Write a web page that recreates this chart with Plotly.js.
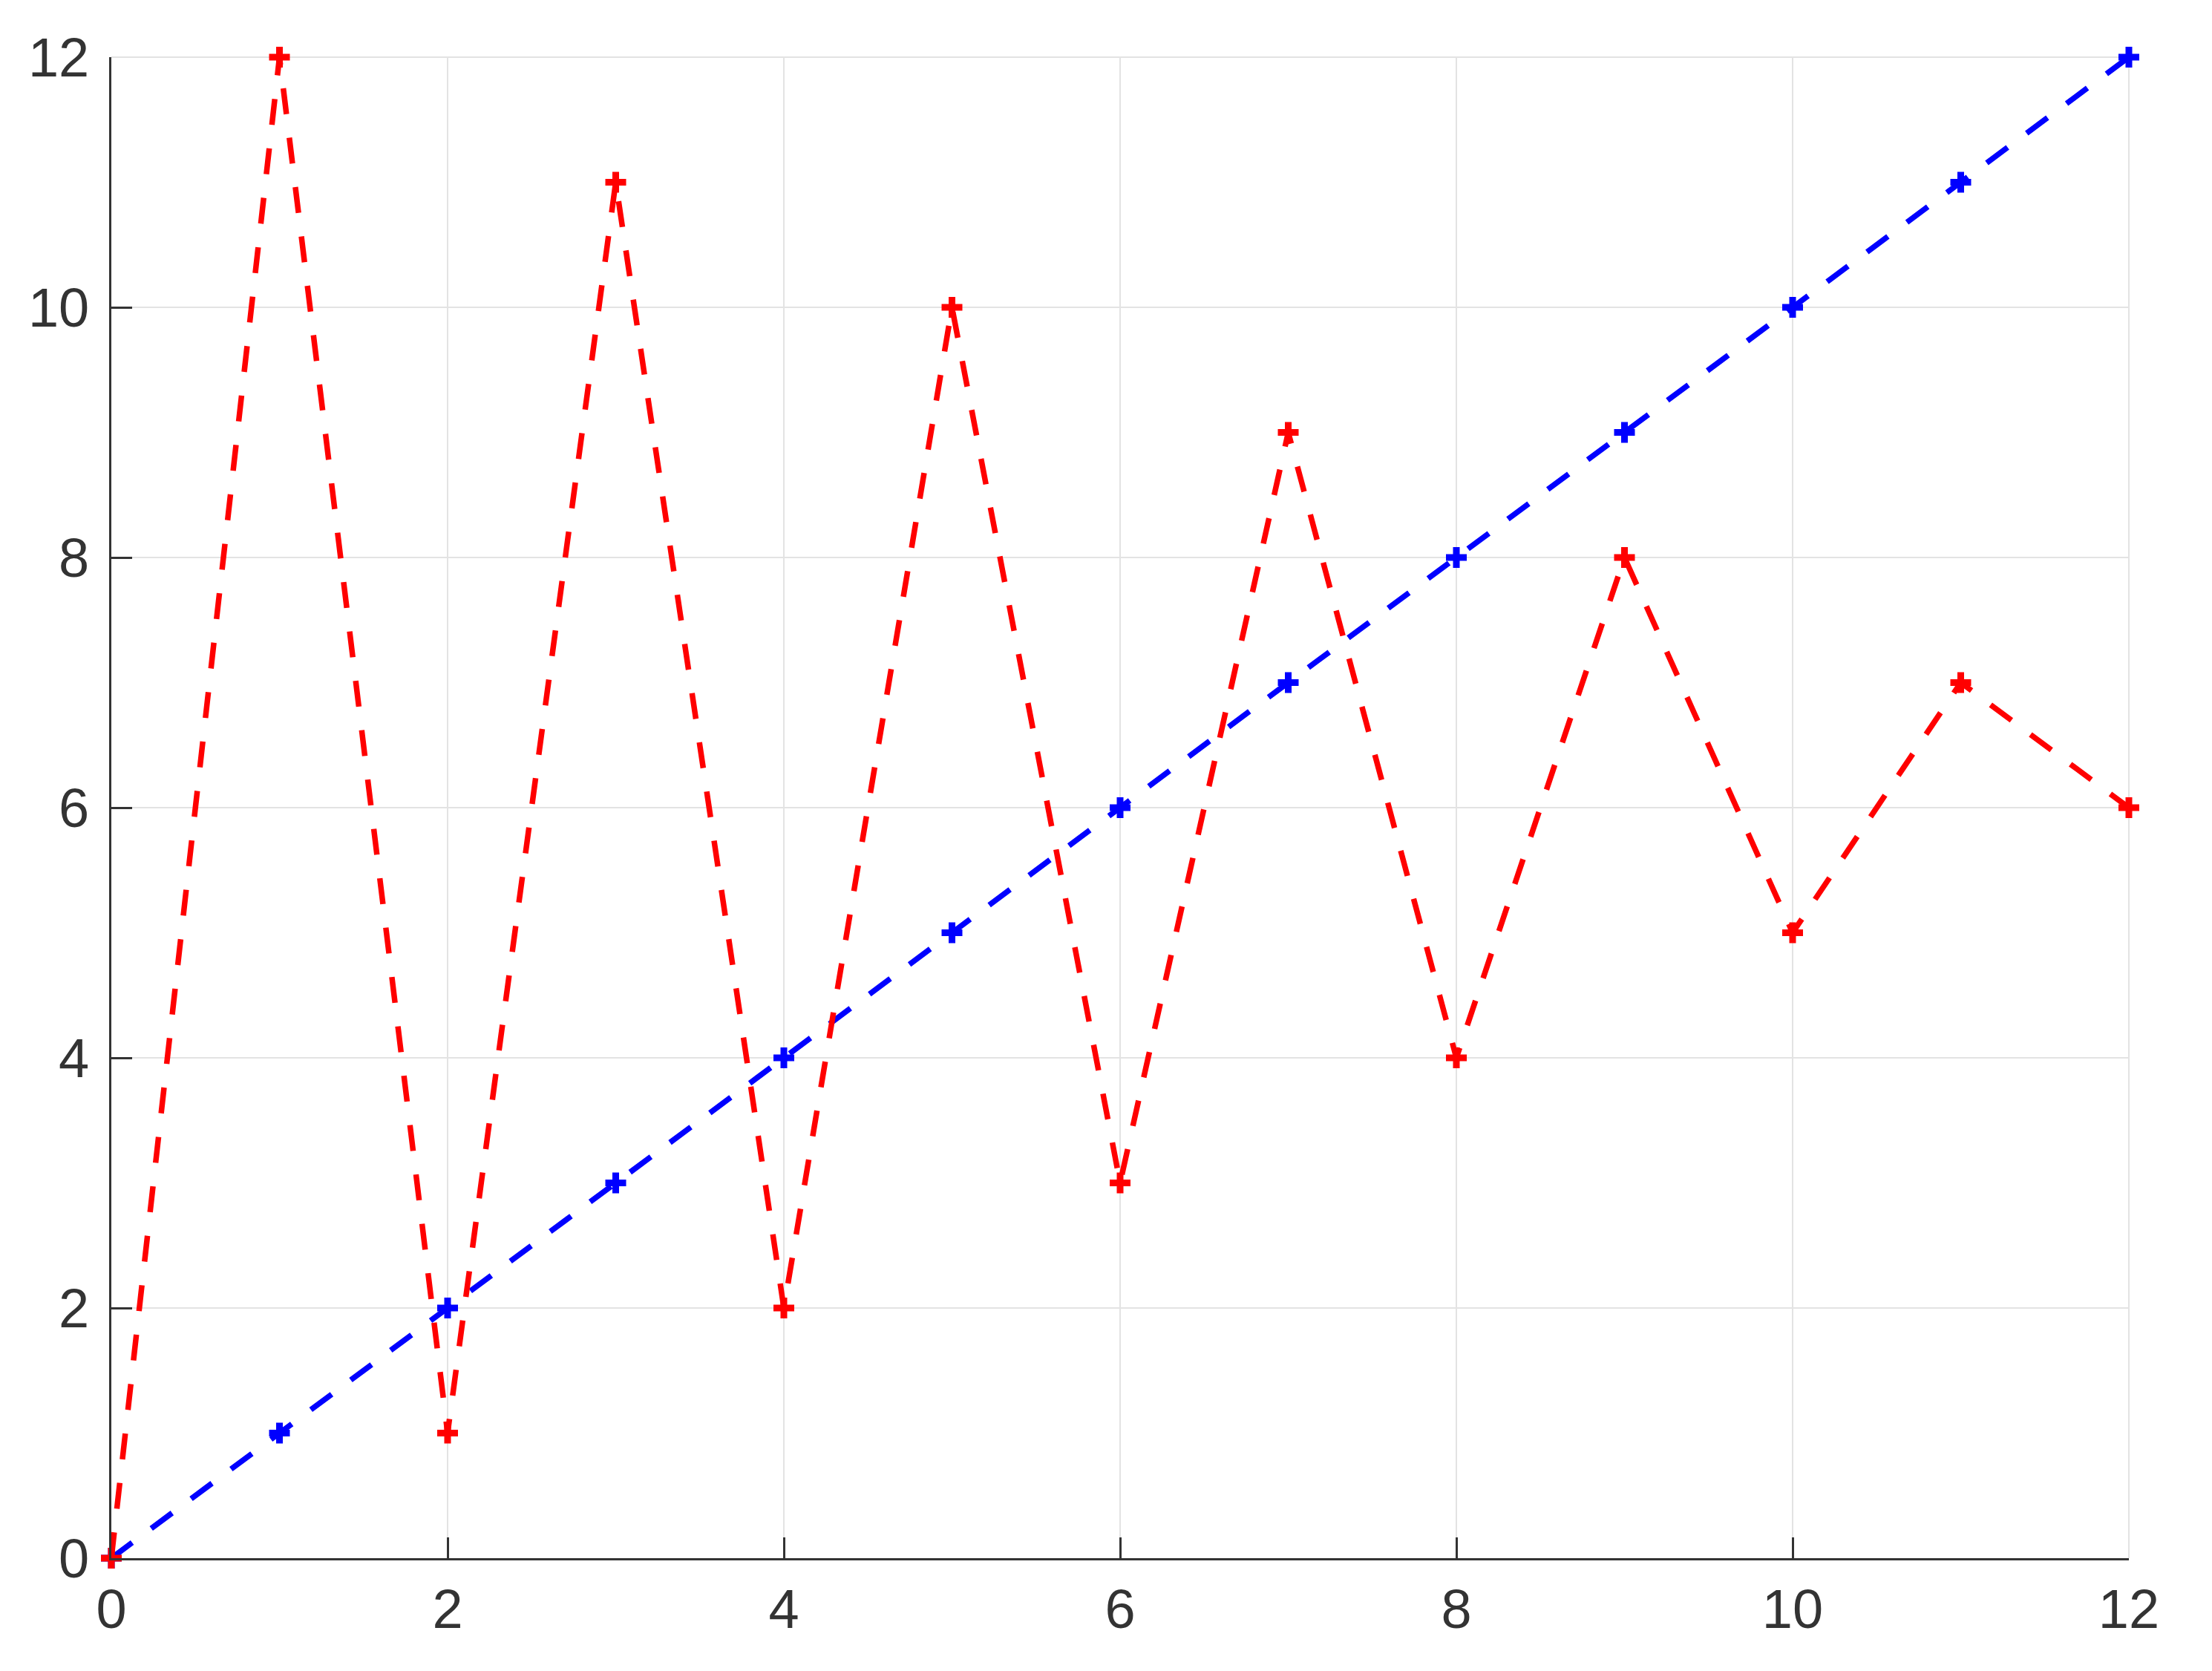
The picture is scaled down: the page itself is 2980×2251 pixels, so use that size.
<!DOCTYPE html>
<html>
<head>
<meta charset="utf-8">
<script src="https://cdn.plot.ly/plotly-3.0.1.min.js"></script>
<style>
  html, body { margin: 0; padding: 0; background: #fff; }
  #chart { width: 2980px; height: 2251px; }
</style>
</head>
<body>
<div id="chart"></div>
<script>
// x positions shared by both series
var xs = [0, 1, 2, 3, 4, 5, 6, 7, 8, 9, 10, 11, 12];
var blueY = [0, 1, 2, 3, 4, 5, 6, 7, 8, 9, 10, 11, 12];
var redY = [0, 12, 1, 11, 2, 10, 3, 9, 4, 8, 5, 7, 6];
var tickVals = [0, 2, 4, 6, 8, 10, 12];
var tickText = ['0', '2', '4', '6', '8', '10', '12'];

var gridColor = '#e3e3e3';

function series(y, color) {
    return {
        x: xs,
        y: y,
        type: 'scatter',
        mode: 'lines+markers',
        cliponaxis: false,
        line: { color: color, width: 7.5, dash: '35px,32px' },
        marker: {
            symbol: 'cross-thin',
            size: 20,
            color: color,
            line: { color: color, width: 9 }
        },
        hoverinfo: 'skip'
    };
}

function axis(standoff) {
    return {
        range: [0, 12],
        tickvals: tickVals,
        ticktext: tickText,
        ticks: 'inside',
        ticklen: 28,
        tickwidth: 3,
        tickcolor: '#333333',
        ticklabelstandoff: standoff,
        showline: true,
        linecolor: '#333333',
        linewidth: 3,
        mirror: false,
        showgrid: true,
        gridcolor: gridColor,
        gridwidth: 2,
        zeroline: false,
        fixedrange: true,
        tickfont: { family: 'Liberation Sans, Arial, sans-serif', size: 74, color: '#333333' }
    };
}

var layout = {
    width: 2980,
    height: 2251,
    margin: { l: 150, r: 112, t: 77, b: 152 },
    paper_bgcolor: '#ffffff',
    plot_bgcolor: '#ffffff',
    showlegend: false,
    xaxis: axis(2),
    yaxis: axis(12),
    // grid lines at the far edges (top y=12, right x=12) that plotly leaves out
    shapes: [
        { type: 'line', layer: 'below', xref: 'paper', yref: 'paper', x0: 0, x1: 1, y0: 1, y1: 1,
          line: { color: gridColor, width: 2 } },
        { type: 'line', layer: 'below', xref: 'paper', yref: 'paper', x0: 1, x1: 1, y0: 0, y1: 1,
          line: { color: gridColor, width: 2 } }
    ]
};

Plotly.newPlot('chart', [series(blueY, '#0000ff'), series(redY, '#ff0000')], layout,
    { displayModeBar: false, staticPlot: true });
</script>
</body>
</html>
